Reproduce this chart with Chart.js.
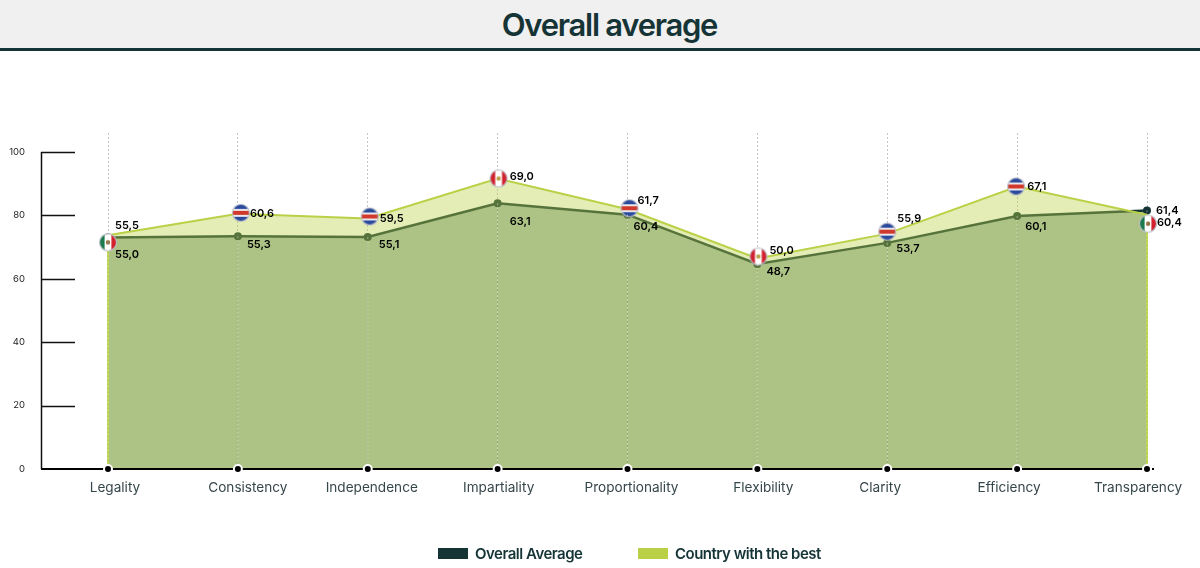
<!DOCTYPE html>
<html>
<head>
<meta charset="utf-8">
<title>Overall average</title>
<script src="https://cdn.jsdelivr.net/npm/chart.js@4"></script>
<style>
  html, body { margin: 0; padding: 0; background: #fff; }
  #wrap { position: relative; width: 1200px; height: 568px; overflow: hidden; }
  #header {
    position: absolute; left: 0; top: 0; width: 1200px; height: 48px;
    background: #f0f0f0; border-bottom: 3px solid #153436;
    text-align: center; font: 600 31px/49px Inter, sans-serif; letter-spacing: -1.27px; color: #153436;
    text-indent: 19px;
  }
  #chart { position: absolute; left: 0; top: 0; }
  #legend { position: absolute; left: 438px; top: 544px; height: 20px; font: 600 15px/20px Inter, sans-serif; letter-spacing: -0.5px; color: #153436; }
  #legend span { position: absolute; top: 0; white-space: nowrap; }
  #legend i { position: absolute; top: 4px; width: 30px; height: 11px; }
</style>
</head>
<body>
<div id="wrap">
  <div id="header">Overall average</div>
  <canvas id="chart" width="1200" height="568"></canvas>
  <div id="legend"></div>
</div>
<script>
const categories = ["Legality", "Consistency", "Independence", "Impartiality", "Proportionality", "Flexibility", "Clarity", "Efficiency", "Transparency"];
const overallAverage = [55.0, 55.3, 55.1, 63.1, 60.4, 48.7, 53.7, 60.1, 61.4];
const bestCountry = [55.5, 60.6, 59.5, 69.0, 61.7, 50.0, 55.9, 67.1, 60.4];
const bestFlags = ["mx", "cr", "cr", "pe", "cr", "pe", "cr", "cr", "mx"];
const baseline = [0, 0, 0, 0, 0, 0, 0, 0, 0];
const axisTicks = [0, 20, 40, 60, 80, 100];

// the printed axis does not match the printed values (61,4 sits at about 81),
// so the values get their own hidden scale, same as the picture
const AXIS_MAX = 106;
const VALUE_MAX = 79.8;

const DARK = "#153436";
const LIME = "#bad147";

// nudges for the text and flags, the original has them placed by hand
const overallNudge = [[7, 17], [9, 9], [11, 8], [12, 18], [6, 12], [9, 8], [9, 6], [8, 11], [9, 0]];
const bestNudge = [[7, -10], [12, 0], [12, 0], [12, -2], [10, -9], [12, -8], [10, -15], [10, 0], [10, 8]];
const categoryNudge = [7, 10, 4, 1, 4, 6, -7, -8, -9];
const flagNudge = [[0, 7], [3, -1], [2, -2], [1, 0], [2, -1], [1, -2], [0, -2], [-1, 0], [1, 9]];

// Flag marker used as point style, the shift is built into the image
function makeFlag(code, shift) {
  const r = 8.5;
  const c = document.createElement("canvas");
  c.width = 22 + Math.abs(shift[0]) * 2;
  c.height = 22 + Math.abs(shift[1]) * 2;
  const g = c.getContext("2d");
  const cx = c.width / 2 + shift[0], cy = c.height / 2 + shift[1];
  const x = cx - r, y = cy - r, d = r * 2;

  g.save();
  g.beginPath();
  g.arc(cx, cy, r, 0, Math.PI * 2);
  g.clip();
  g.fillStyle = "#fff";
  g.fillRect(x, y, d, d);
  if (code === "cr") {
    g.fillStyle = "#2c4a9c";
    g.fillRect(x, y, d, d);
    g.fillStyle = "#f4f4f4";
    g.fillRect(x, y + d * 0.27, d, d * 0.46);
    g.fillStyle = "#d0392b";
    g.fillRect(x, y + d * 0.38, d, d * 0.24);
  } else {
    g.fillStyle = code === "mx" ? "#1d7a4c" : "#d3222f";
    g.fillRect(x, y, d * 0.3, d);
    g.fillStyle = "#d3222f";
    g.fillRect(x + d * 0.7, y, d * 0.3, d);
    g.fillStyle = code === "mx" ? "#8a6a3a" : "#b9a04a";
    g.beginPath();
    g.arc(cx, cy, 2.2, 0, Math.PI * 2);
    g.fill();
  }
  g.restore();

  g.strokeStyle = "rgba(185,190,200,0.95)";
  g.lineWidth = 1.2;
  g.beginPath();
  g.arc(cx, cy, r, 0, Math.PI * 2);
  g.stroke();
  return c;
}

function formatValue(v) {
  return v.toFixed(1).replace(".", ",");
}

// Spine and ticks on the far left, baseline, category names and value labels
const decorations = {
  id: "decorations",
  beforeDatasetDraw(chart, args) {
    const ctx = chart.ctx;
    const x = chart.scales.x;
    const y = chart.scales.yValues;
    ctx.save();
    if (args.index === 1) {
      // best country area has a closed outline
      ctx.strokeStyle = LIME;
      ctx.lineWidth = 2;
      [0, categories.length - 1].forEach((i) => {
        ctx.beginPath();
        ctx.moveTo(x.getPixelForTick(i), y.getPixelForValue(bestCountry[i]));
        ctx.lineTo(x.getPixelForTick(i), y.getPixelForValue(0));
        ctx.stroke();
      });
    }
    if (args.index === 2) {
      // grid shows pale through the filled area
      ctx.strokeStyle = "rgba(255,255,255,0.4)";
      ctx.lineWidth = 1;
      ctx.setLineDash([2, 2]);
      categories.forEach((name, i) => {
        ctx.beginPath();
        ctx.moveTo(x.getPixelForTick(i), y.getPixelForValue(overallAverage[i]));
        ctx.lineTo(x.getPixelForTick(i), y.getPixelForValue(0));
        ctx.stroke();
      });
      ctx.setLineDash([]);
      ctx.fillStyle = "#000";
      ctx.fillRect(41, y.getPixelForValue(0) - 1, x.getPixelForTick(categories.length - 1) - 41, 2);
    }
    ctx.restore();
  },
  afterDraw(chart) {
    const ctx = chart.ctx;
    const x = chart.scales.x;
    const yAxis = chart.scales.y;
    const y = chart.scales.yValues;
    ctx.save();

    ctx.strokeStyle = "#111";
    ctx.lineWidth = 1.5;
    ctx.beginPath();
    ctx.moveTo(41.5, yAxis.getPixelForValue(100));
    ctx.lineTo(41.5, yAxis.getPixelForValue(0));
    ctx.stroke();
    axisTicks.slice(1).forEach((t) => {
      const py = Math.round(yAxis.getPixelForValue(t)) + 0.5;
      ctx.beginPath();
      ctx.moveTo(41, py);
      ctx.lineTo(75, py);
      ctx.stroke();
    });
    ctx.fillStyle = "#000";
    ctx.fillRect(1152, y.getPixelForValue(0) - 1, 2, 2);

    ctx.fillStyle = "#36474b";
    ctx.font = "13.6px Inter, sans-serif";
    ctx.textAlign = "center";
    ctx.textBaseline = "middle";
    categories.forEach((name, i) => {
      ctx.fillText(name, x.getPixelForTick(i) + categoryNudge[i], 488);
    });

    ctx.fillStyle = "#000";
    ctx.font = "600 11px Inter, sans-serif";
    ctx.textAlign = "left";
    categories.forEach((name, i) => {
      const px = x.getPixelForTick(i);
      ctx.fillText(formatValue(overallAverage[i]), px + overallNudge[i][0], y.getPixelForValue(overallAverage[i]) + overallNudge[i][1]);
      ctx.fillText(formatValue(bestCountry[i]), px + bestNudge[i][0], y.getPixelForValue(bestCountry[i]) + bestNudge[i][1]);
    });
    ctx.restore();
  },
};

new Chart(document.getElementById("chart"), {
  type: "line",
  data: {
    labels: categories,
    datasets: [
      {
        label: "Overall Average",
        data: overallAverage,
        yAxisID: "yValues",
        order: 3,
        borderColor: DARK,
        borderWidth: 2.5,
        backgroundColor: "rgba(21,70,45,0.38)",
        fill: "origin",
        tension: 0,
        pointRadius: 4,
        pointBackgroundColor: DARK,
        pointBorderWidth: 0,
        clip: false,
      },
      {
        label: "Country with the best",
        data: bestCountry,
        yAxisID: "yValues",
        order: 2,
        borderColor: LIME,
        borderWidth: 2,
        backgroundColor: "rgba(186,209,71,0.4)",
        fill: "origin",
        tension: 0,
        pointRadius: 8,
        pointStyle: bestFlags.map((code, i) => makeFlag(code, flagNudge[i])),
        clip: false,
      },
      {
        label: "baseline",
        data: baseline,
        yAxisID: "yValues",
        order: 1,
        showLine: false,
        pointRadius: 4,
        pointBackgroundColor: "#000",
        pointBorderColor: "#fff",
        pointBorderWidth: 2,
        clip: false,
      },
    ],
  },
  options: {
    responsive: false,
    animation: false,
    layout: { padding: { left: 0, top: 133, right: 53, bottom: 99 } },
    plugins: { legend: { display: false }, tooltip: { enabled: false } },
    scales: {
      x: {
        afterFit: (s) => { s.height = 0; },
        border: { display: false, dash: [2, 2] },
        grid: { color: "#c4c4c4", drawTicks: false },
        ticks: { display: false },
      },
      y: {
        min: 0,
        max: AXIS_MAX,
        afterFit: (s) => { s.width = 108; },
        afterBuildTicks: (s) => { s.ticks = axisTicks.map((value) => ({ value })); },
        border: { display: false },
        grid: { display: false },
        ticks: { padding: 75, color: "#222", font: { family: "Inter", size: 9.5 } },
      },
      yValues: { display: false, min: 0, max: VALUE_MAX },
    },
  },
  plugins: [decorations],
});

// Legend, items taken from the series names and colours
const legendItems = [["Overall Average", DARK, 0], ["Country with the best", LIME, 200]];
legendItems.forEach(([text, color, left]) => {
  const box = document.createElement("i");
  box.style.left = left + "px";
  box.style.background = color;
  const label = document.createElement("span");
  label.style.left = left + 37 + "px";
  label.textContent = text;
  document.getElementById("legend").append(box, label);
});
</script>
</body>
</html>
